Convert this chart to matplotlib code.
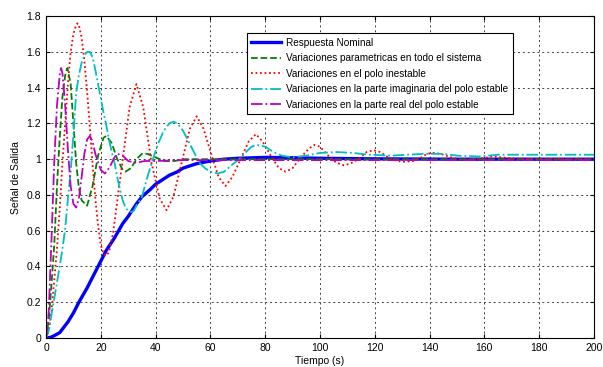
import matplotlib.pyplot as plt
from matplotlib.ticker import FormatStrFormatter

plt.rcParams['font.family'] = ['Liberation Sans', 'DejaVu Sans']

# Respuesta nominal
t_nom = [0, 2, 5, 8, 10, 12, 15, 18, 20, 22, 25, 28, 30, 33, 35, 38, 40, 43, 45, 48, 50,
         55, 60, 65, 70, 80, 90, 100, 120, 150, 200]
y_nom = [0, 0.005, 0.03, 0.09, 0.14, 0.2, 0.28, 0.37, 0.43, 0.49, 0.56, 0.64, 0.68, 0.75, 0.79,
         0.83, 0.86, 0.89, 0.91, 0.93, 0.95, 0.975, 0.99, 1.0, 1.005, 1.01, 1.008, 1.005, 1.002,
         1.0, 1.0]

# Variaciones parametricas en todo el sistema
t_par = [0, 1, 2, 3, 4, 5, 6, 7, 7.8, 9, 10, 11, 12, 13, 15, 17, 19, 21, 22, 24, 26, 28, 29,
         31, 33, 35, 37, 40, 43, 47, 50, 60, 200]
y_par = [0, 0.1, 0.3, 0.52, 0.85, 1.12, 1.35, 1.47, 1.51, 1.42, 1.2, 0.98, 0.84, 0.77, 0.74,
         0.85, 1.02, 1.12, 1.13, 1.09, 1.0, 0.94, 0.93, 0.95, 1.0, 1.03, 1.03, 1.01, 0.99, 0.99,
         1.0, 1.0, 1.0]

# Variaciones en el polo inestable
t_ine = [0, 1, 2, 3, 4, 5, 6, 7, 8, 9, 10, 11, 11.5, 12, 13, 14, 15, 16, 17, 18, 19, 20, 21,
         22, 23, 24.5, 27.5, 30.5, 33, 35.5, 38.5, 41.5, 44, 46.5, 49.5, 52.5, 55, 57.5, 60.5,
         63, 65.5, 68, 71, 74, 76.6, 79, 82, 85, 87.5, 90, 93, 96, 98, 100, 103, 106, 108.7,
         111, 114, 117, 119.6, 122, 125, 128, 131, 134, 137, 139, 141.5, 144, 148, 152, 157,
         163, 170, 180, 200]
y_ine = [0, 0.04, 0.15, 0.32, 0.5, 0.72, 0.98, 1.2, 1.42, 1.6, 1.7, 1.75, 1.76, 1.75, 1.68,
         1.55, 1.38, 1.18, 0.97, 0.78, 0.63, 0.52, 0.47, 0.46, 0.48, 0.59, 0.94, 1.29, 1.42,
         1.29, 0.98, 0.78, 0.715, 0.79, 0.98, 1.17, 1.24, 1.17, 1.02, 0.9, 0.85, 0.9, 1.0, 1.1,
         1.14, 1.1, 1.02, 0.95, 0.93, 0.95, 1.01, 1.06, 1.08, 1.07, 1.02, 0.98, 0.966, 0.975,
         1.0, 1.04, 1.05, 1.04, 1.01, 0.99, 0.985, 0.99, 1.01, 1.03, 1.035, 1.03, 1.01, 0.995,
         1.0, 1.015, 1.005, 1.0, 1.0]

# Variaciones en la parte imaginaria del polo estable
t_ima = [0, 1, 2, 3, 4, 5, 6, 7, 8, 9, 10, 11, 12, 13, 14, 15, 16, 17, 18, 19, 20, 21, 22, 23,
         24, 25, 26, 27, 28, 29, 30, 31, 32, 33, 35, 37, 39, 41, 43, 45, 46.5, 48, 50, 52, 54,
         56, 58, 60, 62.7, 65, 68, 70.5, 73, 75, 77, 80, 83, 86, 90, 95, 100, 106, 112, 118,
         126, 132, 138, 145, 150, 158, 165, 180, 200]
y_ima = [0, 0.04, 0.13, 0.22, 0.31, 0.4, 0.5, 0.61, 0.78, 0.93, 1.14, 1.37, 1.47, 1.54, 1.58,
         1.6, 1.6, 1.57, 1.5, 1.42, 1.34, 1.26, 1.19, 1.11, 1.04, 0.98, 0.9, 0.83, 0.77, 0.73,
         0.71, 0.705, 0.71, 0.74, 0.79, 0.9, 1.0, 1.09, 1.16, 1.2, 1.21, 1.2, 1.16, 1.1, 1.04,
         0.98, 0.95, 0.93, 0.92, 0.93, 0.97, 1.0, 1.04, 1.07, 1.08, 1.07, 1.04, 1.02, 1.01,
         1.02, 1.035, 1.04, 1.035, 1.025, 1.02, 1.025, 1.03, 1.03, 1.02, 1.015, 1.025, 1.025,
         1.025]

# Variaciones en la parte real del polo estable
t_rea = [0, 0.5, 1, 2, 3, 4, 5, 5.5, 6, 7, 8, 9, 10, 11, 12, 13, 14, 15, 16, 17, 18, 20, 21.5,
         23, 25, 26, 28, 30, 33, 36, 40, 50, 60, 200]
y_rea = [0, 0.05, 0.15, 0.55, 0.98, 1.3, 1.47, 1.51, 1.48, 1.3, 1.05, 0.85, 0.75, 0.73, 0.78,
         0.9, 1.03, 1.11, 1.13, 1.1, 1.03, 0.94, 0.92, 0.95, 1.01, 1.03, 1.02, 0.99, 0.98, 0.99,
         0.99, 0.995, 0.995, 0.995]

labels = ['Respuesta Nominal',
          'Variaciones parametricas en todo el sistema',
          'Variaciones en el polo inestable',
          'Variaciones en la parte imaginaria del polo estable',
          'Variaciones en la parte real del polo estable']

fig = plt.figure(figsize=(6.03, 3.67), dpi=100)
ax = fig.add_axes([0.0763, 0.079, 0.9087, 0.877])

ax.plot(t_nom, y_nom, color='#0000ff', lw=2.4, label=labels[0])
ax.plot(t_par, y_par, color='#008000', lw=1.3, ls='--', label=labels[1])
ax.plot(t_ine, y_ine, color='#ff0000', lw=1.3, ls=(0, (1, 1.5)), label=labels[2])
ax.plot(t_ima, y_ima, color='#00bfbf', lw=1.3, ls='-.', label=labels[3])
ax.plot(t_rea, y_rea, color='#bf00bf', lw=1.3, ls='-.', label=labels[4])

ax.set_xlim(0, 200)
ax.set_ylim(0, 1.8)
ax.set_xticks(range(0, 201, 20))
ax.set_yticks([i * 0.2 for i in range(10)])
ax.yaxis.set_major_formatter(FormatStrFormatter('%g'))
ax.tick_params(direction='in', labelsize=7.5, top=True, right=True, length=3)
ax.grid(True, color='#404040', ls=(0, (2, 3)), lw=0.7)

ax.set_ylabel('Señal de Salida', fontsize=7.5, labelpad=4)
ax.set_xlabel('Tiempo (s)', fontsize=7.5, labelpad=2)

leg = ax.legend(loc='upper left', bbox_to_anchor=(0.366, 0.947), fontsize=7.2,
                fancybox=False, framealpha=1, edgecolor='black', handlelength=3.0,
                borderpad=0.45, labelspacing=0.55, handletextpad=0.5, borderaxespad=0)
leg.get_frame().set_linewidth(0.8)

fig.savefig('out.png', dpi=100)
